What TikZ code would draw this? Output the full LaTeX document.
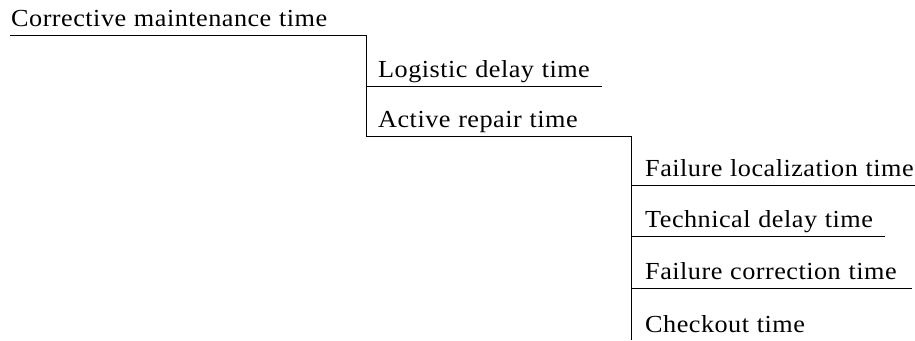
\documentclass[tikz,border=0pt]{standalone}
\usepackage{fontspec}
\setmainfont[LetterSpace=2,FakeStretch=1.07,WordSpace=1.1]{Liberation Serif}
\begin{document}
\begin{tikzpicture}[x=1pt,y=-1pt,
  lbl/.style={anchor=base west,inner sep=0pt,font=\fontsize{24.5}{28}\selectfont},
  rule/.style={line width=0.9pt}]
\useasboundingbox (0,0) rectangle (915,340);
% texts
\node[lbl] (cmt) at (11,27) {Corrective maintenance time};
\node[lbl] (ldt) at (378,77) {Logistic delay time};
\node[lbl] (art) at (378,127) {Active repair time};
\node[lbl] (flt) at (645,176) {Failure localization time};
\node[lbl] (tdt) at (645,227) {Technical delay time};
\node[lbl] (fct) at (645,279) {Failure correction time};
\node[lbl] (cot) at (645,332) {Checkout time};
% corner points
\coordinate (a0) at (10,35);
\coordinate (a1) at (366,35);
\coordinate (b0) at (366,86);
\coordinate (b1) at (602,86);
\coordinate (c0) at (366,136);
\coordinate (c1) at (631,136);
\coordinate (d0) at (631,185);
\coordinate (d1) at (915,185);
\coordinate (e0) at (631,236);
\coordinate (e1) at (885,236);
\coordinate (f0) at (631,288);
\coordinate (f1) at (912,288);
\coordinate (g0) at (631,340);
% lines
\draw[rule] (a0) -- (a1) -- (c0) -- (c1) -- (g0);
\draw[rule] (b0) -- (b1);
\draw[rule] (d0) -- (d1);
\draw[rule] (e0) -- (e1);
\draw[rule] (f0) -- (f1);
\end{tikzpicture}
\end{document}
